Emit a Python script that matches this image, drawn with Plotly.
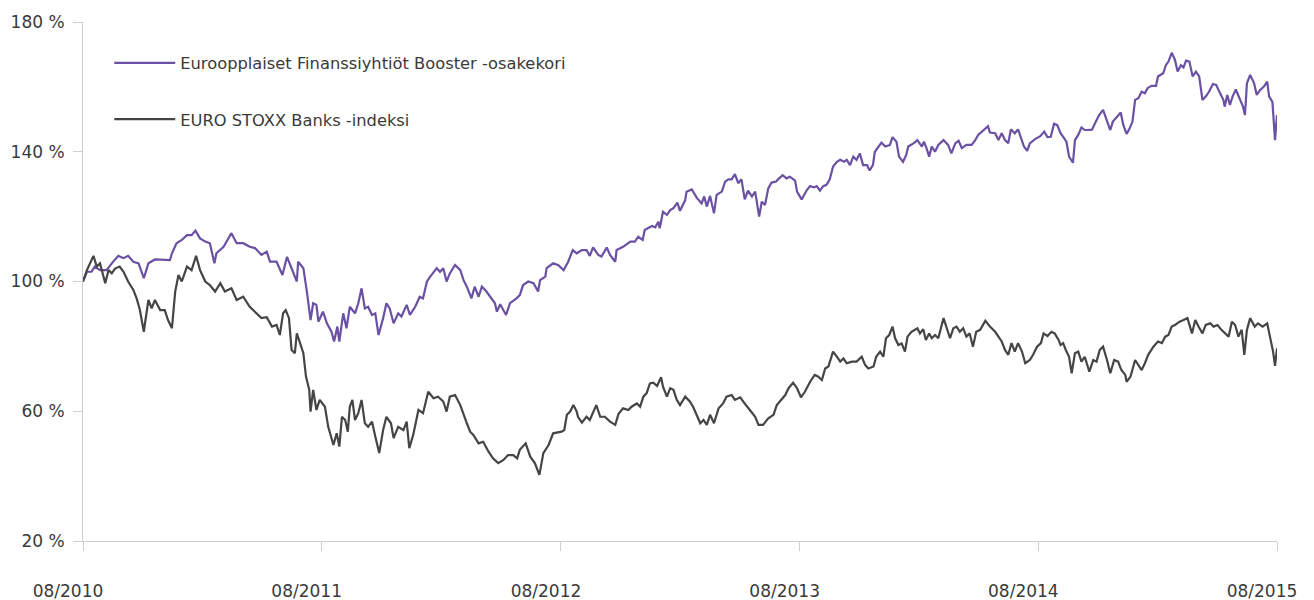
import pandas as pd
import plotly.graph_objects as go

start_date = "2010-08-01"

# Day offsets from 08/2010 and index values (%)
booster_days = [0, 6, 13, 18, 26, 36, 44, 54, 62, 69, 77, 85, 93, 100, 110, 133, 136, 143, 151, 159,
                166, 172, 179, 187, 194, 201, 204, 215, 227, 235, 245, 255, 263, 273, 281, 286, 296, 305, 312, 319,
                327, 329, 337, 342, 345, 348, 352, 357, 360, 367, 373, 380, 384, 389, 392, 398, 403, 408, 416, 421,
                426, 431, 436, 442, 447, 452, 459, 464, 469, 475, 482, 487, 495, 500, 508, 515, 520, 526, 531, 536,
                541, 546, 551, 556, 561, 569, 577, 582, 587, 594, 599, 605, 610, 617, 625, 630, 633, 638, 647, 653,
                663, 668, 673, 681, 689, 696, 699, 707, 709, 719, 727, 735, 742, 749, 755, 763, 770, 775, 780, 788,
                793, 801, 806, 814, 816, 826, 837, 844, 849, 856, 859, 870, 875, 880, 882, 887, 893, 898, 903, 909,
                913, 921, 923, 931, 939, 946, 950, 954, 959, 965, 969, 977, 982, 987, 992, 997, 1002, 1007, 1012, 1017,
                1023, 1028, 1034, 1038, 1043, 1048, 1053, 1060, 1063, 1070, 1076, 1081, 1089, 1092, 1099, 1107, 1112, 1118, 1122, 1127,
                1132, 1137, 1142, 1147, 1153, 1158, 1164, 1168, 1173, 1178, 1183, 1188, 1193, 1199, 1203, 1208, 1211, 1216, 1221, 1227,
                1234, 1238, 1244, 1248, 1254, 1259, 1262, 1270, 1276, 1283, 1286, 1290, 1294, 1298, 1303, 1308, 1316, 1323, 1328, 1334,
                1339, 1344, 1351, 1359, 1364, 1369, 1377, 1384, 1387, 1395, 1400, 1405, 1410, 1415, 1419, 1425, 1430, 1436, 1439, 1444,
                1448, 1456, 1464, 1470, 1475, 1480, 1485, 1490, 1495, 1499, 1504, 1508, 1514, 1517, 1522, 1527, 1532, 1537, 1543, 1549,
                1554, 1560, 1566, 1571, 1575, 1581, 1587, 1591, 1596, 1600, 1605, 1609, 1614, 1619, 1624, 1628, 1634, 1641, 1644, 1652,
                1656, 1660, 1665, 1670, 1674, 1679, 1683, 1687, 1692, 1697, 1702, 1707, 1712, 1717, 1722, 1728, 1733, 1739, 1744, 1746,
                1750, 1754, 1758, 1763, 1768, 1774, 1777, 1780, 1785, 1791, 1795, 1800, 1806, 1811, 1814, 1819, 1823, 1826]
booster_values = [100, 103, 103, 104.6, 103.5, 103.5, 105.6, 107.9, 107.2, 107.9, 106.1, 105.6, 101, 105.6, 106.8, 106.6, 108.7, 111.8, 112.8, 114.3,
                  114.3, 115.7, 113.3, 112.3, 111.8, 105.6, 108.7, 110.7, 114.9, 111.8, 111.8, 110.7, 110.3, 108.2, 109.2, 106.1, 106.1, 102, 107.6, 104.1,
                  100, 106.1, 104.1, 97.4, 93.3, 88.1, 93.3, 92.8, 87.6, 90.7, 87.1, 84.5, 81.5, 86.1, 81.5, 90.2, 85.6, 92.2, 90.2, 93.3,
                  97.9, 91.7, 92.2, 89.7, 90.2, 83.5, 88.7, 93.3, 91.7, 87.1, 90.2, 89.2, 92.8, 89.7, 92.2, 95.3, 94.8, 100, 101.5, 103,
                  104.1, 103, 104.1, 100, 102.5, 105.1, 103.5, 100.4, 98.4, 94.8, 98.4, 95.3, 98.4, 96.9, 94.8, 93.3, 90.7, 93, 89.7, 93.3,
                  94.8, 95.8, 98.9, 100, 99.5, 96.9, 100.4, 101.5, 104.1, 105.6, 105, 103.5, 106.1, 109.7, 108.7, 109.7, 109.7, 107.9, 110.5, 108.2,
                  107.7, 110.5, 108.2, 106.1, 109.7, 110.7, 112.3, 112.3, 113.8, 112.8, 115.9, 117.1, 116.7, 118.4, 116.4, 121.5, 120.5, 122, 122.6, 124.3,
                  121.8, 125.1, 127.7, 128.4, 125.7, 124.1, 126.2, 123.1, 126.4, 121, 126.7, 127.7, 130.8, 131.5, 131.5, 133.1, 130.3, 131.5, 125.3, 128,
                  126.2, 127.7, 120, 124.6, 123.6, 128.7, 130.5, 130.8, 131.5, 132.8, 131.8, 132.3, 131.1, 127.7, 125.3, 128.2, 129.4, 129, 129.4, 128,
                  129.4, 129.8, 131.5, 135.4, 136.9, 137.5, 136.9, 137.5, 135.9, 138.5, 137.5, 139.5, 135.9, 135.9, 134.2, 135.9, 140, 141.6, 142.8, 141.6,
                  142.1, 144.5, 143.1, 138.5, 136.9, 139, 141.6, 142.6, 143.6, 141.6, 143.1, 141.1, 138.5, 141.6, 140, 142.1, 143.6, 142.1, 139.5, 142.6,
                  143.4, 141.1, 142.1, 142.1, 143.4, 145.2, 146.7, 147.9, 145.9, 145.7, 143.6, 145.7, 143.6, 142.6, 146.9, 145.7, 146.9, 143.1, 141.6, 140.3,
                  142.6, 143.9, 144.8, 146.2, 144.5, 144.6, 148.6, 148.2, 145.7, 144.6, 143.1, 138.5, 136.6, 143.6, 145.2, 147.5, 146.7, 146.7, 146.8, 149.3,
                  151.3, 152.9, 149.8, 146.7, 149.3, 150.8, 152.1, 148.2, 145.5, 146.9, 149.3, 156, 156.5, 158.5, 158, 159.6, 160.3, 160.3, 163.2, 164.2,
                  166.7, 167.8, 170.5, 168.3, 164.7, 166.7, 166, 168.1, 167.8, 163.2, 164.7, 163.2, 156, 157, 158.5, 160.9, 160.6, 158, 156, 153.9,
                  157.5, 154.4, 157, 159.2, 156.5, 153.9, 151.3, 161.1, 163.7, 161.1, 157.5, 159, 160.1, 161.6, 157, 155.4, 143.6, 151.3]

banks_days = [0, 6, 16, 21, 26, 34, 39, 44, 49, 56, 62, 69, 77, 82, 87, 93, 100, 105, 110, 118,
              125, 130, 136, 141, 146, 151, 159, 166, 173, 179, 187, 194, 202, 210, 217, 227, 235, 245, 255, 266,
              273, 281, 289, 296, 301, 306, 310, 315, 319, 324, 327, 332, 337, 341, 346, 348, 352, 357, 362, 370,
              375, 383, 388, 392, 396, 401, 405, 408, 412, 416, 421, 426, 431, 436, 442, 447, 453, 459, 464, 471,
              475, 482, 490, 495, 499, 505, 513, 520, 528, 536, 543, 551, 556, 561, 569, 577, 582, 587, 592, 597,
              605, 612, 620, 627, 635, 643, 650, 658, 664, 668, 677, 684, 691, 698, 704, 712, 719, 732, 736, 740,
              745, 750, 755, 757, 763, 770, 775, 780, 785, 791, 798, 806, 814, 819, 826, 834, 839, 847, 852, 857,
              862, 867, 872, 878, 884, 887, 893, 898, 903, 908, 913, 921, 928, 933, 939, 944, 949, 954, 959, 965,
              972, 979, 984, 992, 997, 1005, 1012, 1020, 1028, 1033, 1040, 1048, 1056, 1061, 1069, 1074, 1079, 1086, 1092, 1098,
              1104, 1112, 1119, 1124, 1130, 1135, 1140, 1147, 1153, 1158, 1163, 1168, 1176, 1183, 1191, 1196, 1201, 1209, 1213, 1219,
              1224, 1228, 1233, 1238, 1242, 1247, 1252, 1257, 1261, 1267, 1276, 1280, 1285, 1289, 1294, 1298, 1303, 1308, 1316, 1321,
              1326, 1331, 1336, 1341, 1346, 1351, 1356, 1361, 1366, 1372, 1380, 1387, 1395, 1400, 1405, 1410, 1415, 1420, 1425, 1430,
              1436, 1441, 1448, 1453, 1459, 1465, 1469, 1475, 1481, 1486, 1492, 1495, 1499, 1503, 1508, 1512, 1517, 1522, 1527, 1532,
              1539, 1545, 1550, 1555, 1560, 1566, 1571, 1577, 1583, 1588, 1594, 1596, 1602, 1609, 1614, 1619, 1624, 1629, 1637, 1644,
              1650, 1655, 1660, 1665, 1670, 1677, 1683, 1689, 1696, 1701, 1706, 1712, 1717, 1724, 1729, 1735, 1741, 1746, 1752, 1757,
              1762, 1767, 1772, 1776, 1780, 1785, 1792, 1797, 1804, 1811, 1816, 1820, 1823, 1826]
banks_values = [100, 103.5, 107.9, 104.6, 105.6, 99.5, 103.5, 102.5, 104, 104.6, 103, 100, 97.4, 94.8, 91.2, 84.5, 94.3, 91.7, 94.3, 91.2,
                91.2, 88.1, 85.6, 96.9, 102, 100, 104.6, 103.5, 107.9, 103.5, 100, 98.9, 96.9, 99.5, 96.9, 97.9, 94.3, 95.3, 92.2, 90.2,
                88.7, 89, 86.1, 86.6, 83.5, 90.2, 91.2, 88.7, 78.9, 77.9, 84, 81, 77.9, 70.7, 66.6, 59.9, 66.6, 60.4, 63.5, 61.4,
                55.2, 49.6, 53.2, 49.1, 58.3, 57.3, 53.7, 61.4, 63.5, 57.3, 59.4, 63.5, 56.3, 55.2, 56.8, 52.2, 47.1, 54.2, 58.3, 56.3,
                51.7, 55.2, 54.2, 56.8, 48.6, 52.7, 60.4, 59.4, 66, 64, 64.5, 63, 59.9, 64.5, 65, 61.9, 58.9, 56.3, 53.7, 52.7,
                50.1, 50.6, 47.6, 45.5, 44, 45, 46.5, 46.5, 45.5, 48.1, 50.1, 46, 44, 40.4, 47.1, 49.6, 53.2, 53.7, 54.2, 58.9,
                59.9, 61.9, 59.9, 58.3, 56.5, 58.3, 57.3, 59.9, 61.9, 58.3, 58.3, 56.8, 55.8, 59.2, 60.9, 60.4, 61.4, 62.4, 61.4, 64.5,
                65.6, 68.6, 68.8, 67.8, 70.5, 67.6, 64.5, 67.1, 66.6, 63.5, 61.9, 64.5, 63, 61.4, 58.9, 56.3, 57.3, 55.8, 58.9, 56.3,
                60.9, 62.4, 64.5, 65, 63.5, 64.3, 62.4, 60.4, 58.3, 55.8, 55.8, 57.8, 58.9, 61.9, 64, 65, 67.1, 68.8, 67.1, 64.3,
                66, 69.1, 71.2, 70.7, 69.6, 73.2, 73.8, 78.4, 76.8, 75.3, 76.3, 74.8, 75.3, 75.3, 76.8, 74.3, 73.2, 73.8, 76.8, 78.4,
                76.8, 82.5, 83.5, 86.1, 82.5, 80.4, 80.9, 78.4, 83, 84.5, 85.6, 84, 85.3, 82, 84, 82.5, 83.5, 82.5, 88.7, 85.6,
                82.5, 85.6, 86.1, 84.5, 85.6, 83, 84, 79.9, 84.5, 85.1, 87.9, 86.1, 84.5, 83, 81.5, 78.9, 77.4, 81, 78.4, 81,
                78.4, 74.8, 75.8, 77.4, 79.9, 81, 84, 83.2, 84.5, 84, 82, 80.4, 81, 78.9, 76.8, 71.7, 77.9, 78.4, 75.3, 76.8,
                72.2, 75.8, 75.3, 78.9, 79.9, 75.8, 71.7, 75.8, 75.3, 72.7, 71.2, 69.1, 70.7, 75.8, 74.3, 72.7, 74.8, 77.4, 79.9, 81.5,
                81, 83, 83.5, 86.1, 86.6, 87.6, 88.1, 88.7, 84, 88.1, 86.1, 84, 86.6, 87.1, 86.1, 86.6, 85.1, 84, 83, 87.6,
                86.6, 83, 85.1, 77.4, 85.1, 88.7, 86.1, 87.1, 86.1, 87.1, 82, 78.4, 74, 79.4]

series_names = ["Euroopplaiset Finanssiyhtiöt Booster -osakekori", "EURO STOXX Banks -indeksi"]
tick_dates = ["2010-08-01", "2011-08-01", "2012-08-01", "2013-08-01", "2014-08-01", "2015-08-01"]
tick_labels = ["08/2010", "08/2011", "08/2012", "08/2013", "08/2014", "08/2015"]
y_ticks = [20, 60, 100, 140, 180]
y_tick_labels = ["20 %", "60 %", "100 %", "140 %", "180 %"]

t0 = pd.Timestamp(start_date)
booster_dates = [t0 + pd.Timedelta(days=d) for d in booster_days]
banks_dates = [t0 + pd.Timedelta(days=d) for d in banks_days]

PURPLE = "#6a51a3"
DARK = "#454545"
AXIS = "#cfcfcf"
TEXT = "#3a3a3a"
FONT = "DejaVu Sans"

fig = go.Figure()
fig.add_trace(go.Scatter(x=booster_dates, y=booster_values, mode="lines", name=series_names[0],
                         legendgroup="a", line=dict(color=PURPLE, width=2.2)))
fig.add_trace(go.Scatter(x=banks_dates, y=banks_values, mode="lines", name=series_names[1],
                         legendgroup="b", line=dict(color=DARK, width=2.2)))

fig.update_layout(
    width=1314, height=600,
    margin=dict(l=83, r=37, t=22, b=59),
    plot_bgcolor="white", paper_bgcolor="white",
    font=dict(family=FONT, size=16.5, color=TEXT),
    showlegend=True,
    legend=dict(x=0.022, y=0.954, xanchor="left", yanchor="top",
                bgcolor="rgba(0,0,0,0)", tracegroupgap=32, itemwidth=61,
                font=dict(family=FONT, size=16.3, color=TEXT)),
    xaxis=dict(type="date", range=[tick_dates[0], tick_dates[-1]],
               tickvals=tick_dates, ticktext=tick_labels,
               showgrid=False, zeroline=False, automargin=False,
               showline=True, linecolor=AXIS, linewidth=1,
               ticks="outside", ticklen=9, tickcolor=AXIS, tickwidth=1,
               ticklabelstandoff=26, ticklabelshift=-15,
               tickfont=dict(family=FONT, size=17, color=TEXT)),
    yaxis=dict(range=[20, 180], tickvals=y_ticks, ticktext=y_tick_labels,
               showgrid=False, zeroline=False, automargin=False,
               showline=True, linecolor=AXIS, linewidth=1,
               ticks="outside", ticklen=9, tickcolor=AXIS, tickwidth=1,
               ticklabelstandoff=5,
               tickfont=dict(family=FONT, size=17, color=TEXT)),
)

fig.write_html("out.html", config={"displayModeBar": False},
               post_script="document.body.style.margin='0';")
